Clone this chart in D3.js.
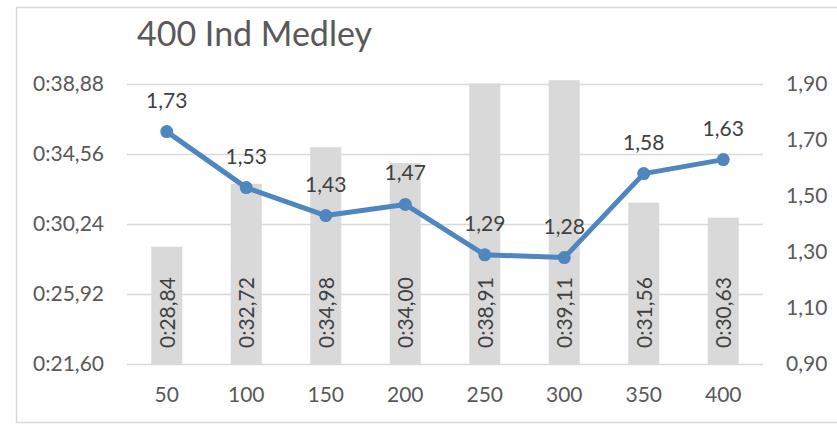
<!DOCTYPE html>
<html>
<head>
<meta charset="utf-8">
<script src="https://cdn.jsdelivr.net/npm/d3@7"></script>
<style>
  body { margin: 0; background: #fff; }
  text { font-family: Lato, "Open Sans", sans-serif; }
</style>
</head>
<body>
<svg id="chart" width="837" height="429"></svg>
<script>
const categories = ["50", "100", "150", "200", "250", "300", "350", "400"];
// split times in seconds (shown as 0:ss,cc)
const splitTimes = [28.84, 32.72, 34.98, 34.0, 38.91, 39.11, 31.56, 30.63];
const ratios = [1.73, 1.53, 1.43, 1.47, 1.29, 1.28, 1.58, 1.63];
const leftTicks = [21.6, 25.92, 30.24, 34.56, 38.88];
const rightTicks = [0.9, 1.1, 1.3, 1.5, 1.7, 1.9];

const svg = d3.select("#chart");
const margin = { left: 127, right: 763, top: 84, bottom: 364 };
const fontSize = "21px";

const fmtComma = (v, d) => v.toFixed(d).replace(".", ",");
const fmtTime = (v) => "0:" + fmtComma(v, 2);

// chart frame (right edge is cut off by the picture)
svg.append("rect")
  .attr("x", 16.5).attr("y", 7.5)
  .attr("width", 830).attr("height", 415)
  .attr("fill", "#fff").attr("stroke", "#d9d9d9").attr("stroke-width", 1.5);

let x = d3.scaleBand().domain(categories).range([margin.left, margin.right]);
let yL = d3.scaleLinear().domain([21.6, 38.88]).range([margin.bottom, margin.top]);
let yR = d3.scaleLinear().domain([0.9, 1.9]).range([margin.bottom, margin.top]);
const cx = (i) => x(categories[i]) + x.bandwidth() / 2;

// gridlines
svg.append("g")
  .selectAll("line")
  .data(leftTicks)
  .join("line")
  .attr("x1", margin.left).attr("x2", margin.right)
  .attr("y1", (d) => Math.round(yL(d)) + 0.5)
  .attr("y2", (d) => Math.round(yL(d)) + 0.5)
  .attr("stroke", "#d9d9d9").attr("stroke-width", 1.5);

// axes
let leftAxis = svg.append("g")
  .attr("transform", `translate(${margin.left - 23},0)`)
  .call(d3.axisLeft(yL).tickValues(leftTicks).tickFormat(fmtTime).tickSize(0).tickPadding(0));
let rightAxis = svg.append("g")
  .attr("transform", `translate(${margin.right + 23},0)`)
  .call(d3.axisRight(yR).tickValues(rightTicks).tickFormat((d) => fmtComma(d, 2)).tickSize(0).tickPadding(0));
let bottomAxis = svg.append("g")
  .attr("transform", `translate(0,${margin.bottom + 23})`)
  .call(d3.axisBottom(x).tickSize(0).tickPadding(0));

[leftAxis, rightAxis, bottomAxis].forEach((a) => {
  a.select(".domain").remove();
  a.selectAll("text").attr("fill", "#595959").style("font-size", fontSize);
});

// bars
const barW = 31;
svg.append("g")
  .selectAll("rect")
  .data(splitTimes)
  .join("rect")
  .attr("x", (d, i) => cx(i) - barW / 2)
  .attr("width", barW)
  .attr("y", (d) => yL(d))
  .attr("height", (d) => margin.bottom - yL(d))
  .attr("fill", "#d9d9d9");

// bar labels, rotated
svg.append("g")
  .selectAll("text")
  .data(splitTimes)
  .join("text")
  .attr("transform", (d, i) => `translate(${cx(i) + 8},${margin.bottom - 16}) rotate(-90)`)
  .attr("fill", "#404040")
  .style("font-size", fontSize)
  .text(fmtTime);

// line
let line = d3.line()
  .x((d, i) => cx(i))
  .y((d) => yR(d));

svg.append("path")
  .datum(ratios)
  .attr("d", line)
  .attr("fill", "none")
  .attr("stroke", "#4f86c0")
  .attr("stroke-width", 5)
  .attr("stroke-linejoin", "round");

svg.append("g")
  .selectAll("circle")
  .data(ratios)
  .join("circle")
  .attr("cx", (d, i) => cx(i))
  .attr("cy", (d) => yR(d))
  .attr("r", 6.5)
  .attr("fill", "#4f86c0");

svg.append("g")
  .selectAll("text")
  .data(ratios)
  .join("text")
  .attr("x", (d, i) => cx(i))
  .attr("y", (d) => yR(d) - 24)
  .attr("text-anchor", "middle")
  .attr("fill", "#404040")
  .style("font-size", fontSize)
  .text((d) => fmtComma(d, 2));

// title
svg.append("text")
  .attr("x", 137).attr("y", 46)
  .attr("fill", "#595959")
  .style("font-size", "34px")
  .text("400 Ind Medley");
</script>
</body>
</html>
